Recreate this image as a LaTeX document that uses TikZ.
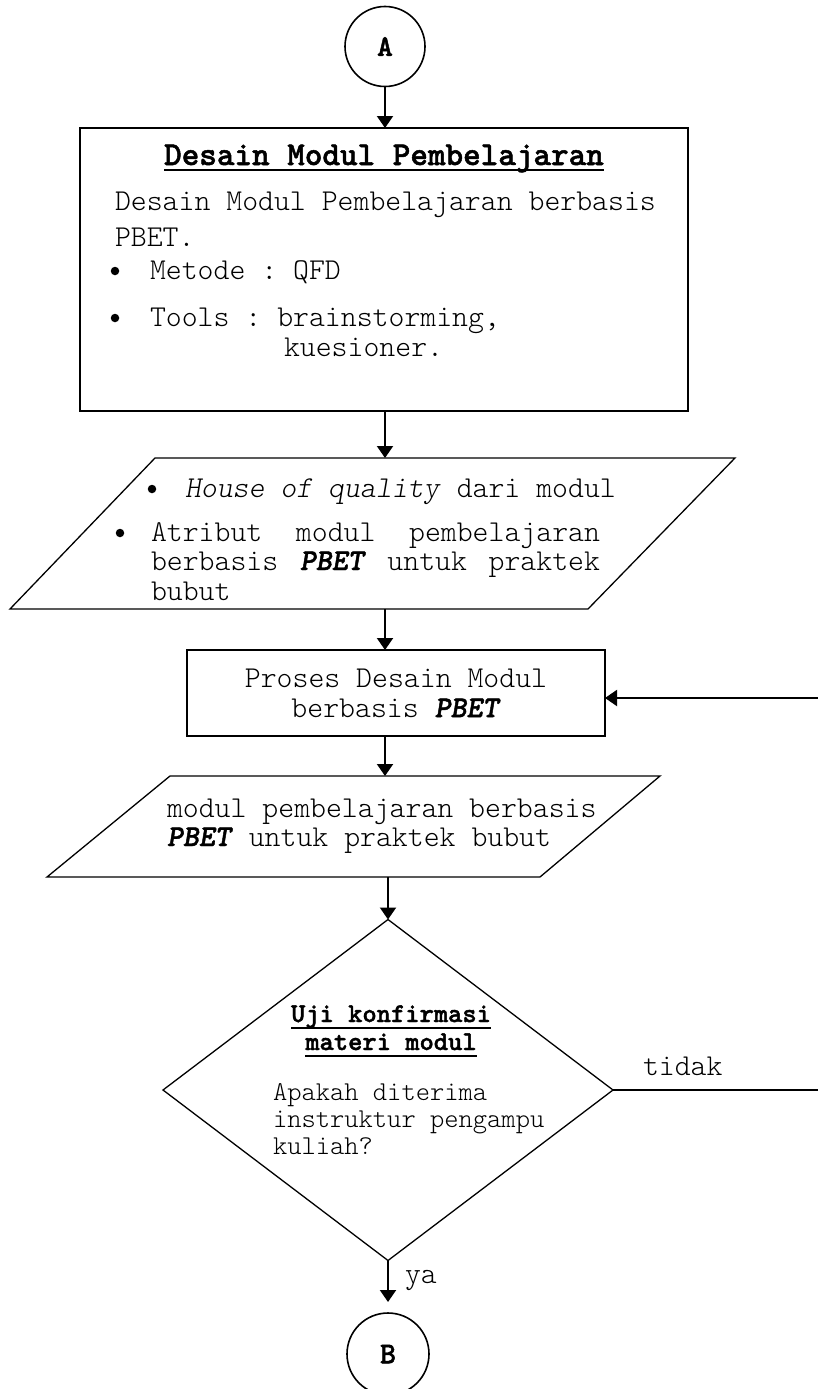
\documentclass[tikz,border=0pt]{standalone}
\usepackage{fontspec}
\setmonofont{lmmonolt10-regular.otf}[BoldFont=lmmonolt10-bold.otf, ItalicFont=lmmonolt10-oblique.otf, BoldItalicFont=lmmonolt10-boldoblique.otf, BoldFeatures={FakeBold=1.5}, BoldItalicFeatures={FakeBold=1.5}]
\usetikzlibrary{shapes.geometric,arrows.meta}
\begin{document}
\begin{tikzpicture}[x=1pt,y=-1pt,
  every node/.style={font=\fontsize{30.3}{30}\selectfont\ttfamily, inner sep=0pt, outer sep=0pt},
  shp/.style={draw, line width=1.6pt},
  thin/.style={draw, line width=1.3pt},
  ln/.style={draw, line width=1.6pt},
  ul/.style={draw, line width=2.6pt},
  arr/.style={draw, line width=2pt, -{Triangle[length=12pt,width=16pt]}},
  dot/.style={circle, fill, minimum size=8.5pt},
  small/.style={font=\fontsize{27.2}{25}\selectfont\ttfamily},
  smallb/.style={font=\fontsize{27.2}{25}\selectfont\ttfamily\bfseries},
  ttl/.style={font=\fontsize{33.5}{30}\selectfont\ttfamily\bfseries}]
\useasboundingbox (0,0) rectangle (818,1389);

% connector A
\node[shp, circle, minimum size=80pt] (A) at (385,46.5) {\bfseries A};

% box 1
\node[shp, rectangle, minimum width=608pt, minimum height=283pt] (b1) at (384,269.5) {};
\node[ttl, anchor=base] (t1) at (384,165) {Desain Modul Pembelajaran};
\draw[ul] ([yshift=-5pt]t1.base west) -- ([yshift=-5pt]t1.base east);
\node[anchor=base west] (t2) at (115,210) {Desain Modul Pembelajaran berbasis};
\node[anchor=base west] (t3) at (115,246) {PBET.};
\node[dot] (t4b) at (115,271) {};
\node[anchor=base west] (t4) at (150,279) {Metode : QFD};
\node[dot] (t5b) at (115,318) {};
\node[anchor=base west] (t5) at (150,326) {Tools : brainstorming,};
\node[anchor=base west] (t6) at (284,356) {kuesioner.};

% parallelogram 1
\draw[thin] (155,458) coordinate (p1a) -- (735,458) coordinate (p1b) -- (588,609) coordinate (p1c) -- (10,609) coordinate (p1d) -- cycle;
\node[dot] (u1b) at (152,489) {};
\node[anchor=base west] (u1) at (185,497) {\textit{House of quality} dari modul};
\node[dot] (u2b) at (120,533) {};
\node[anchor=base west] (u2) at (151,541) {\makebox[449pt][l]{Atribut\hfill modul\hfill pembelajaran}};
\node[anchor=base west] (u3) at (151,570) {\makebox[449pt][l]{berbasis\hfill\textbf{\textit{PBET}}\hfill untuk\hfill praktek}};
\node[anchor=base west] (u4) at (151,600) {bubut};

% box 2
\node[shp, rectangle, minimum width=418pt, minimum height=86pt, align=center] (b2) at (396,693) {Proses Desain Modul\\berbasis \textbf{\textit{PBET}}};
\coordinate (r1) at (818,698);

% parallelogram 2
\draw[thin] (170,776) coordinate (p2a) -- (660,776) coordinate (p2b) -- (540,877) coordinate (p2c) -- (47,877) coordinate (p2d) -- cycle;
\node[anchor=base west] (v1) at (167,817) {modul pembelajaran berbasis};
\node[anchor=base west] (v2) at (167,846) {\textbf{\textit{PBET}} untuk praktek bubut};

% decision
\node[thin, diamond, minimum width=450pt, minimum height=341pt] (d) at (388,1090) {};
\node[smallb, anchor=base] (w1) at (391,1022) {Uji konfirmasi};
\draw[ul] ([yshift=-6pt]w1.base west) -- ([yshift=-6pt]w1.base east);
\node[smallb, anchor=base] (w2) at (391,1050) {materi modul};
\draw[ul] ([yshift=-6pt]w2.base west) -- ([yshift=-6pt]w2.base east);
\node[small, anchor=base west] (w3) at (273,1100) {Apakah diterima};
\node[small, anchor=base west] (w4) at (273,1127) {instruktur pengampu};
\node[small, anchor=base west] (w5) at (273,1154) {kuliah?};
\node[anchor=base west] (tdk) at (643,1075) {tidak};
\coordinate (r2) at (818,1090);
\node[anchor=base west] (ya) at (405,1283) {ya};

% connector B
\node[shp, circle, minimum size=82pt] (B) at (388,1354) {\bfseries B};

% connectors
\draw[arr] (A) -- (A |- b1.north);
\draw[arr] (A |- b1.south) -- (A |- p1a);
\draw[arr] (A |- p1c) -- (A |- b2.north);
\draw[arr] (r1) -- (b2.east |- r1);
\draw[arr] (A |- b2.south) -- (A |- p2a);
\draw[arr] (d.north |- p2c) -- (d.north);
\draw[ln] (d.east) -- (r2);
\draw[arr] (d.south) -- ([yshift=11pt]B.north);
\end{tikzpicture}
\end{document}
